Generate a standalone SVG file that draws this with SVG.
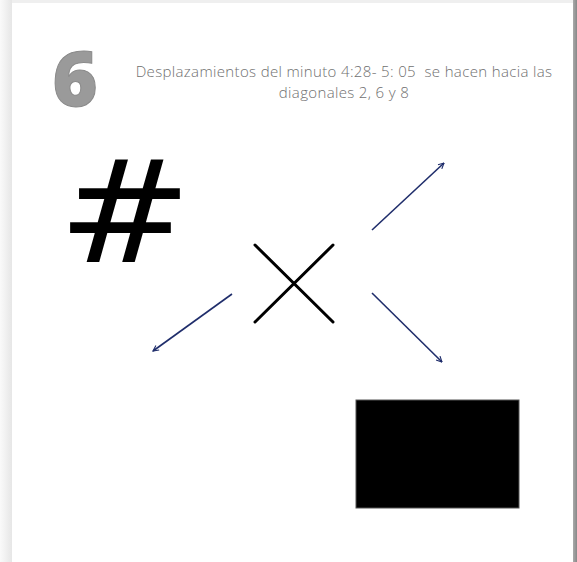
<svg xmlns="http://www.w3.org/2000/svg" width="577" height="562" viewBox="0 0 577 562">
<defs>
<linearGradient id="lg" x1="0" x2="1" y1="0" y2="0"><stop offset="0" stop-color="#fafafa"/><stop offset="1" stop-color="#e6e6e6"/></linearGradient>
<linearGradient id="rg" x1="0" x2="1" y1="0" y2="0"><stop offset="0" stop-color="#aaaaaa"/><stop offset="1" stop-color="#888888"/></linearGradient>
<marker id="ah" viewBox="0 0 10 10" refX="9" refY="5" markerWidth="7" markerHeight="7" orient="auto" markerUnits="userSpaceOnUse">
<path d="M1,1 L9,5 L1,9" fill="none" stroke="#1f2d6b" stroke-width="1.6"/>
</marker>
</defs>
<style>
.arr{stroke:#1f2d6b;stroke-width:1.6;fill:none;marker-end:url(#ah)}
.x{stroke:#000;stroke-width:3;stroke-linecap:round}
.cap{font-family:"Open Sans","Liberation Sans",sans-serif;font-size:15px;letter-spacing:0.35px;font-weight:300;fill:#6f6f6f;text-anchor:middle;white-space:pre}
</style>
<rect x="0" y="0" width="577" height="562" fill="#efefef"/>
<rect x="0" y="0" width="12" height="562" fill="url(#lg)"/>
<rect x="573" y="0" width="4" height="562" fill="url(#rg)"/>
<rect x="12" y="3" width="561" height="559" fill="#ffffff"/>
<g id="num6"><text x="75" y="106" font-family="Open Sans, Liberation Sans, sans-serif" font-weight="800" font-size="77" fill="#9a9a9a" stroke="#8a8a8a" stroke-width="1" text-anchor="middle">6</text></g>
<g id="caption">
<text class="cap" x="344" y="77" xml:space="preserve">Desplazamientos del minuto 4:28- 5: 05  se hacen hacia las</text>
<text class="cap" x="344" y="98">diagonales 2, 6 y 8</text>
</g>
<g id="hash"><text x="125" y="262" transform="translate(125,0) scale(1.13,1) translate(-125,0)" font-family="DejaVu Sans, sans-serif" font-size="142" fill="#000" text-anchor="middle">#</text></g>
<g id="cross">
<line class="x" x1="255" y1="245" x2="333" y2="322"/>
<line class="x" x1="333" y1="245" x2="255" y2="322"/>
</g>
<g id="rect"><rect x="356" y="400" width="163" height="108" fill="#000" stroke="#555" stroke-width="1"/></g>
<g id="connectors">
<line class="arr" x1="372" y1="230" x2="444" y2="163"/>
<line class="arr" x1="372" y1="293" x2="442" y2="362"/>
<line class="arr" x1="232" y1="294" x2="153" y2="351"/>
</g>
</svg>
